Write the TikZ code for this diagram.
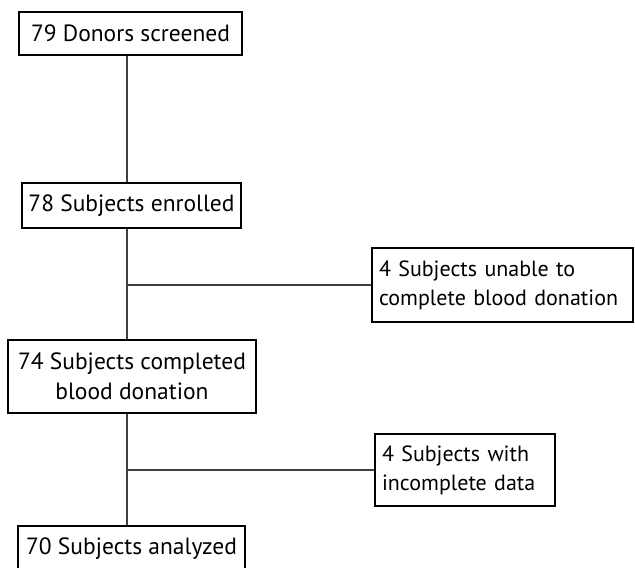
\documentclass[tikz,border=0pt]{standalone}
\usepackage{fontspec}
\setmainfont{PT Sans}
\usepackage{tikz}

\tikzset{
  box/.style={draw, line width=1.2pt, inner sep=0pt, font=\fontsize{23.5}{30}\selectfont},
  sidebox/.style={box, align=left, inner xsep=7pt, font=\fontsize{22}{29}\selectfont,
    execute at begin node={\hyphenpenalty=10000\relax}},
  link/.style={draw=black!75, line width=1.2pt}
}

\begin{document}
\begin{tikzpicture}[x=1pt, y=-1pt]
  \useasboundingbox (0,0) rectangle (635,568);

  % Define nodes
  \node[box, minimum width=223pt, minimum height=43pt] (screened) at (130.5,33.5) {79 Donors screened};
  \node[box, minimum width=219pt, minimum height=45pt] (enrolled) at (131.5,205.5) {78 Subjects enrolled};
  \node[sidebox, minimum width=261pt, minimum height=74pt, text width=247pt] (unable) at (502.5,285) {4 Subjects unable to\\complete blood donation};
  \node[box, align=center, minimum width=248pt, minimum height=73pt] (completed) at (132,376.5) {74 Subjects completed\\blood donation};
  \node[sidebox, minimum width=180pt, minimum height=72pt, text width=166pt] (incomplete) at (465,470) {4 Subjects with\\incomplete data};
  \node[box, minimum width=227pt, minimum height=46pt] (analyzed) at (131.5,549) {70 Subjects analyzed};
  \coordinate (trunk) at (127,0);

  % Connect the nodes
  \path[link] (screened.south -| trunk) -- (enrolled.north -| trunk);
  \path[link] (enrolled.south -| trunk) -- (completed.north -| trunk);
  \path[link] (completed.south -| trunk) -- (analyzed.north -| trunk);
  \path[link] (unable.west -| trunk) -- (unable.west);
  \path[link] (incomplete.west -| trunk) -- (incomplete.west);
\end{tikzpicture}
\end{document}
